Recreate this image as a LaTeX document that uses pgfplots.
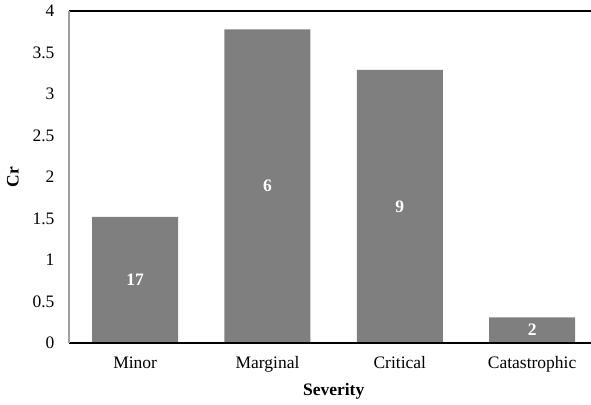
\documentclass[border=0pt]{standalone}
\usepackage{pgfplots}
\pgfplotsset{compat=1.18}
\usepackage{fontspec}
\setmainfont{Liberation Serif}
\usetikzlibrary{calc}
\definecolor{bargray}{HTML}{7F7F7F}
\definecolor{leftgray}{HTML}{A0A0A0}
\begin{document}
\begin{tikzpicture}
\begin{axis}[
  scale only axis, width=522pt, height=332pt,
  xmin=-0.5, xmax=3.445, ymin=0, ymax=4,
  ybar, bar width=0.65,
  clip=false,
  xtick={0,1,2,3},
  xticklabels={Minor,Marginal,Critical,Catastrophic},
  ytick={0,0.5,1,1.5,2,2.5,3,3.5,4},
  yticklabels={0,0.5,1,1.5,2,2.5,3,3.5,4},
  major tick length=0pt,
  axis line style={draw=none},
  ticklabel style={font=\fontsize{17.5}{20}\selectfont},
  yticklabel style={xshift=-11pt},
  xticklabel style={yshift=-10pt},
  xlabel={Severity}, ylabel={Cr},
  label style={font=\fontsize{17.5}{20}\selectfont\bfseries},
  xlabel style={at={(axis cs:1.5,0)}, anchor=center, yshift=-48pt},
  ylabel style={at={($(rel axis cs:0,0.5)+(-56pt,0pt)$)}, anchor=center},
]
\addplot[fill=bargray, draw=none,
  visualization depends on={y \as \rawy},
  nodes near coords, point meta=explicit symbolic,
  every node near coord/.append style={anchor=center, text=white,
    font=\fontsize{17.5}{20}\selectfont\bfseries,
    shift={(axis direction cs:0,-\rawy/2)}}]
  table[meta=lab] {
x y lab
0 1.52 17
1 3.78 6
2 3.29 9
3 0.31 2
};
\draw[black, line width=1.2pt] (rel axis cs:0,1) -- (rel axis cs:1,1);
\draw[black, line width=1.2pt] (rel axis cs:0,0) -- (rel axis cs:1,0);
\draw[leftgray, line width=1.2pt] (rel axis cs:0,0) -- (rel axis cs:0,1);
\coordinate (ll) at (rel axis cs:0,0);
\coordinate (ur) at (rel axis cs:1,1);
\end{axis}
\pgfresetboundingbox
\path[use as bounding box] ($(ll)+(-69pt,-62pt)$) rectangle ($(ur)+(0pt,11pt)$);
\end{tikzpicture}
\end{document}
